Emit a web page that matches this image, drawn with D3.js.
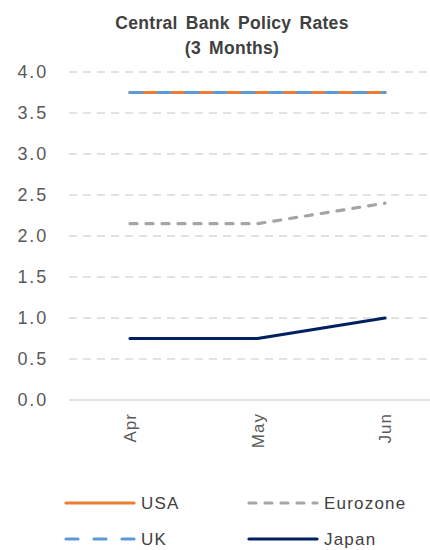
<!DOCTYPE html>
<html>
<head>
<meta charset="utf-8">
<script src="https://cdn.jsdelivr.net/npm/d3@7"></script>
<style>
  body { margin: 0; background: #fff; }
  svg { font-family: "Liberation Sans", Arial, sans-serif; }
</style>
</head>
<body>
<script>
// data
var months = ["Apr", "May", "Jun"];
var usa = [3.75, 3.75, 3.75];
var uk = [3.75, 3.75, 3.75];
var eurozone = [2.15, 2.15, 2.40];
var japan = [0.75, 0.75, 1.00];
var yTicks = [0, 0.5, 1, 1.5, 2, 2.5, 3, 3.5, 4];
var titleLines = ["Central Bank Policy Rates", "(3 Months)"];

var series = [
  { name: "USA", values: usa, color: "#ED7D31", dash: null },
  { name: "Eurozone", values: eurozone, color: "#A5A5A5", dash: "7,9" },
  { name: "UK", values: uk, color: "#5B9BD5", dash: "12,16" },
  { name: "Japan", values: japan, color: "#002060", dash: null }
];

var width = 430, height = 550;

var svg = d3.select("body").append("svg")
    .attr("width", width)
    .attr("height", height);

var x = d3.scalePoint().domain(months).range([130, 385]);
var y = d3.scaleLinear().domain([0, 4]).range([400, 72]);

// title
svg.append("g").selectAll("text")
    .data(titleLines)
  .enter().append("text")
    .attr("x", 232)
    .attr("y", function(d, i) { return 29 + i * 25; })
    .attr("text-anchor", "middle")
    .style("font-size", "17.5px")
    .style("font-weight", "bold")
    .style("letter-spacing", "0.3px")
    .style("word-spacing", "3px")
    .style("fill", "#404040")
    .text(function(d) { return d; });

// gridlines
svg.append("g").selectAll("line")
    .data(yTicks.filter(function(d) { return d > 0; }))
  .enter().append("line")
    .attr("x1", 69).attr("x2", 430)
    .attr("y1", function(d) { return y(d); })
    .attr("y2", function(d) { return y(d); })
    .attr("stroke", "#D9D9D9")
    .attr("stroke-width", 1.5)
    .attr("stroke-dasharray", "8,6");

// x axis line
svg.append("line")
    .attr("x1", 69).attr("x2", 430)
    .attr("y1", y(0)).attr("y2", y(0))
    .attr("stroke", "#D9D9D9")
    .attr("stroke-width", 1.5);

// y axis labels
var yAxis = svg.append("g")
    .attr("transform", "translate(48,0)")
    .call(d3.axisLeft(y).tickValues(yTicks).tickFormat(d3.format(".1f")).tickSize(0).tickPadding(0));
yAxis.select(".domain").remove();
yAxis.selectAll("text")
    .style("font-size", "18px")
    .style("letter-spacing", "1.8px")
    .style("font-family", "Liberation Sans, Arial, sans-serif")
    .style("fill", "#595959");

// x axis labels
var xAxis = svg.append("g")
    .attr("transform", "translate(0,413)")
    .call(d3.axisBottom(x).tickSize(0).tickPadding(0));
xAxis.select(".domain").remove();
xAxis.selectAll("text")
    .attr("transform", "rotate(-90)")
    .attr("text-anchor", "end")
    .attr("x", 0)
    .attr("y", 0)
    .attr("dy", "0.35em")
    .style("font-size", "17px")
    .style("letter-spacing", "1px")
    .style("font-family", "Liberation Sans, Arial, sans-serif")
    .style("fill", "#595959");

// lines
var line = d3.line()
    .x(function(d, i) { return x(months[i]); })
    .y(function(d) { return y(d); });

svg.append("g").selectAll("path")
    .data(series)
  .enter().append("path")
    .attr("d", function(d) { return line(d.values); })
    .attr("fill", "none")
    .attr("stroke", function(d) { return d.color; })
    .attr("stroke-width", 3.2)
    .attr("stroke-linecap", "round")
    .attr("stroke-linejoin", "round")
    .attr("stroke-dasharray", function(d) { return d.dash; });

// legend
var lg = svg.append("g").selectAll("g")
    .data(series)
  .enter().append("g")
    .attr("transform", function(d, i) {
      return "translate(" + (i % 2 === 0 ? 66 : 249) + "," + (503 + Math.floor(i / 2) * 36) + ")";
    });

lg.append("line")
    .attr("x1", 0).attr("x2", 68)
    .attr("stroke", function(d) { return d.color; })
    .attr("stroke-width", 3.2)
    .attr("stroke-linecap", "round")
    .attr("stroke-dasharray", function(d) { return d.dash; });

lg.append("text")
    .attr("x", 75)
    .attr("dy", "0.35em")
    .style("font-size", "17px")
    .style("letter-spacing", "1.2px")
    .style("fill", "#404040")
    .text(function(d) { return d.name; });
</script>
</body>
</html>
